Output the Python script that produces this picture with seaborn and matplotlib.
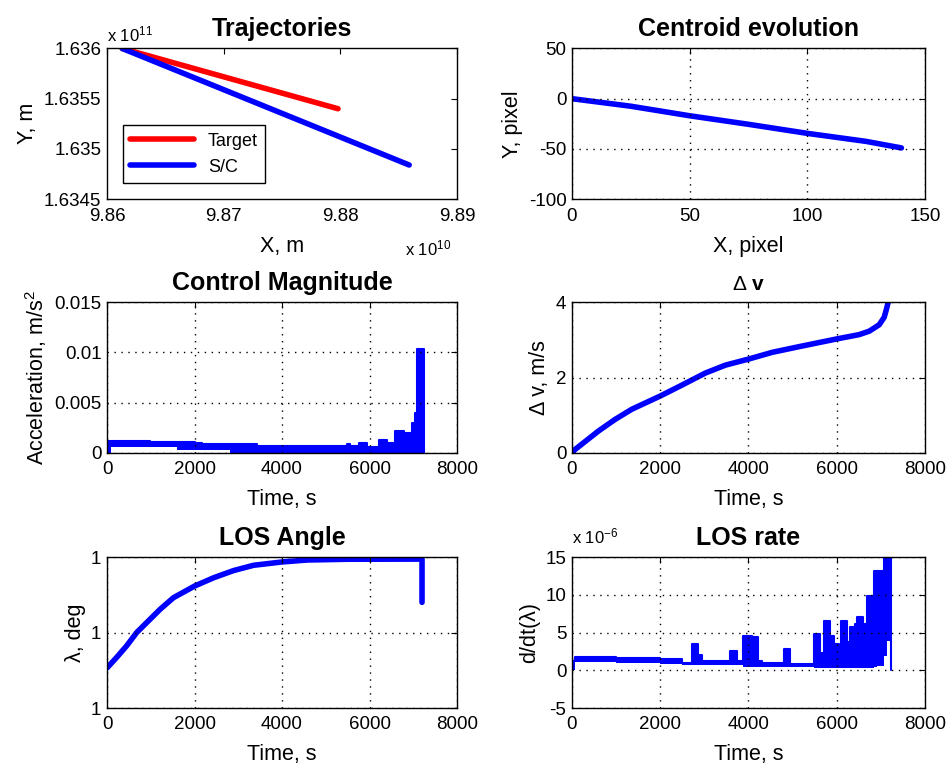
import seaborn as sns
import matplotlib.pyplot as plt
from matplotlib.ticker import FuncFormatter

# Trajectories, m
target_x = [9.8613e10, 9.8798e10]
target_y = [1.63600e11, 1.63540e11]
sc_x = [9.8613e10, 9.8859e10]
sc_y = [1.63600e11, 1.63484e11]

# Centroid evolution, pixel
cen_x = [0, 10, 25, 50, 75, 100, 125, 140]
cen_y = [0, -3, -7.5, -17, -25.5, -34.5, -42.5, -49]

# Control magnitude (step envelopes), m/s^2
acc_t = [0, 100, 985, 1595, 2000, 2170, 2820, 3427, 4687, 4900, 4950, 5486, 5562, 5752,
         5943, 6210, 6400, 6590, 6781, 6971, 7032, 7086, 7253]
acc_hi = [0.00123, 0.00123, 0.00108, 0.00108, 0.00097, 0.00085, 0.00085, 0.0007, 0.00065,
          0.00073, 0.00065, 0.00085, 0.00065, 0.001, 0.0006, 0.00133, 0.001, 0.0022,
          0.00203, 0.00293, 0.004, 0.01033, 0.0]
acc_lo = [0.0, 0.00057, 0.00057, 0.0003, 0.0003, 0.0003, 0.0, 0.0, 0.0,
          0.0, 0.0, 0.0, 0.0, 0.0, 0.0, 0.0, 0.0, 0.0,
          0.0, 0.0, 0.0, 0.0, 0.0]

# Delta v, m/s
dv_t = [0, 68, 598, 977, 1356, 2000, 2492, 3023, 3477, 4000, 4538, 5144, 5977,
        6508, 6735, 6962, 7076, 7129, 7167, 7200]
dv = [0, 0.09, 0.58, 0.89, 1.16, 1.51, 1.80, 2.12, 2.33, 2.49, 2.67, 2.82, 3.02,
      3.14, 3.23, 3.40, 3.60, 3.82, 4.0, 4.1]

# LOS angle, deg
los_t = [0, 221, 450, 679, 908, 1214, 1519, 2000, 2435, 2893, 3351, 4000, 4573,
         5500, 7200, 7200]
los_deg = [0.9999532, 0.9999672, 0.9999826, 1.0000002, 1.0000134, 1.000031,
           1.0000464, 1.0000618, 1.0000728, 1.0000824, 1.0000894, 1.0000938,
           1.0000964, 1.0000974, 1.0000976, 1.0000402]

# LOS rate (step envelopes)
rate_t = [0, 60, 515, 990, 1990, 2485, 2710, 2865, 2940, 3585, 3735, 3885, 4075,
          4210, 4300, 4795, 4950, 5475, 5615, 5705, 5840, 5930, 6045, 6100, 6235,
          6310, 6425, 6460, 6600, 6690, 6840, 6920, 7070, 7145, 7235]
rate_hi = [1.2e-6, 1.8e-6, 1.8e-6, 1.67e-6, 1.5e-6, 1.0e-6, 3.45e-6, 2.1e-6, 1.2e-6,
           2.6e-6, 1.2e-6, 4.6e-6, 4.4e-6, 1.2e-6, 1.0e-6, 2.8e-6, 0.85e-6, 4.8e-6,
           2.3e-6, 6.5e-6, 4.5e-6, 3.5e-6, 2.7e-6, 6.5e-6, 3.8e-6, 5.8e-6, 6.2e-6,
           7.1e-6, 6.2e-6, 9.8e-6, 13.2e-6, 13.2e-6, 16e-6, 16e-6, 0.0]
rate_lo = [0.0, 1.14e-6, 1.05e-6, 0.96e-6, 0.8e-6, 0.65e-6, 0.65e-6, 0.65e-6, 0.65e-6,
           0.65e-6, 0.65e-6, 0.5e-6, 0.5e-6, 0.4e-6, 0.4e-6, 0.4e-6, 0.4e-6, 0.3e-6,
           0.3e-6, 0.3e-6, 0.3e-6, 0.3e-6, 0.3e-6, 0.3e-6, 0.3e-6, 0.3e-6, 0.3e-6,
           0.3e-6, 0.3e-6, 0.3e-6, 0.5e-6, 0.6e-6, 1.9e-6, 3.9e-6, 0.0]

sns.set_style('white')
plt.rcParams['font.family'] = ['Liberation Sans', 'DejaVu Sans']
plt.rcParams['mathtext.fontset'] = 'custom'
plt.rcParams['mathtext.rm'] = 'Liberation Sans'
plt.rcParams['mathtext.bf'] = 'Liberation Sans:bold'
plt.rcParams['mathtext.default'] = 'regular'
plt.rcParams['axes.unicode_minus'] = False
plt.rcParams['text.color'] = 'black'
plt.rcParams['axes.labelcolor'] = 'black'

TICK = 13.5
LABEL = 15.5
TITLE = 18
LW = 4.0

fig = plt.figure(figsize=(9.47, 7.69), dpi=100)
lefts = [0.113, 0.604]
widths = [0.3696, 0.3727]
bottoms = [0.741, 0.411, 0.0793]
h = 0.196
axes = [[fig.add_axes([lefts[c], bottoms[r], widths[c], h]) for c in range(2)] for r in range(3)]


def style(ax, grid=True):
    ax.tick_params(direction='in', top=True, right=True, length=4, labelsize=TICK,
                   colors='black')
    ax.tick_params(axis='x', pad=6)
    ax.tick_params(axis='y', pad=4)
    for s in ax.spines.values():
        s.set_color('black')
        s.set_linewidth(1.0)
    if grid:
        ax.grid(True, color='black', linestyle=(0, (1, 4)), linewidth=1.0)
        ax.set_axisbelow(False)
    ax.xaxis.label.set_size(LABEL)
    ax.yaxis.label.set_size(LABEL)
    ax.xaxis.labelpad = 8


# Trajectories
ax = axes[0][0]
sns.lineplot(x=target_x, y=target_y, color='red', lw=LW, ax=ax, label='Target', sort=False)
sns.lineplot(x=sc_x, y=sc_y, color='blue', lw=LW, ax=ax, label='S/C', sort=False)
ax.set_xlim(9.86e10, 9.89e10)
ax.set_ylim(1.6345e11, 1.636e11)
ax.set_xticks([9.86e10, 9.87e10, 9.88e10, 9.89e10])
ax.set_yticks([1.6345e11, 1.635e11, 1.6355e11, 1.636e11])
ax.xaxis.set_major_formatter(FuncFormatter(lambda v, _: f'{v / 1e10:g}'))
ax.yaxis.set_major_formatter(FuncFormatter(lambda v, _: f'{v / 1e11:g}'))
ax.set_xlabel('X, m')
ax.set_ylabel('Y, m')
ax.set_title('Trajectories', fontsize=TITLE, fontweight='bold', pad=9)
ax.text(0.0, 1.03, 'x 10$^{11}$', transform=ax.transAxes, fontsize=12, va='bottom')
ax.text(0.85, -0.39, 'x 10$^{10}$', transform=ax.transAxes, fontsize=12, va='bottom')
leg = ax.legend(loc='lower left', fontsize=13, handlelength=3.5, fancybox=False,
                framealpha=1, edgecolor='black', borderaxespad=0.9)
leg.get_frame().set_linewidth(1.0)
style(ax, grid=False)

# Centroid evolution
ax = axes[0][1]
sns.lineplot(x=cen_x, y=cen_y, color='blue', lw=LW, ax=ax, sort=False)
ax.set_xlim(0, 150)
ax.set_ylim(-100, 50)
ax.set_xticks([0, 50, 100, 150])
ax.set_yticks([-100, -50, 0, 50])
ax.set_xlabel('X, pixel')
ax.set_ylabel('Y, pixel')
ax.set_title('Centroid evolution', fontsize=TITLE, fontweight='bold', pad=9)
style(ax)

# Control magnitude
ax = axes[1][0]
ax.fill_between(acc_t, acc_lo, acc_hi, step='post', color='blue', lw=0)
sns.lineplot(x=acc_t, y=acc_hi, drawstyle='steps-post', color='blue', lw=1.5, ax=ax,
             sort=False, estimator=None)
ax.set_xlim(0, 8000)
ax.set_ylim(0, 0.015)
ax.set_xticks([0, 2000, 4000, 6000, 8000])
ax.set_yticks([0, 0.005, 0.01, 0.015])
ax.yaxis.set_major_formatter(FuncFormatter(lambda v, _: f'{v:g}'))
ax.set_xlabel('Time, s')
ax.set_ylabel('Acceleration, m/s$^2$')
ax.set_title('Control Magnitude', fontsize=TITLE, fontweight='bold', pad=9)
style(ax)

# Delta v
ax = axes[1][1]
sns.lineplot(x=dv_t, y=dv, color='blue', lw=LW, ax=ax, sort=False)
ax.set_xlim(0, 8000)
ax.set_ylim(0, 4)
ax.set_xticks([0, 2000, 4000, 6000, 8000])
ax.set_yticks([0, 2, 4])
ax.set_xlabel('Time, s')
ax.set_ylabel('Δ v, m/s')
ax.set_title('$\\Delta$ $\\mathbf{v}$', fontsize=15, pad=9)
style(ax)

# LOS angle
ax = axes[2][0]
sns.lineplot(x=los_t, y=los_deg, color='blue', lw=LW, ax=ax, sort=False, estimator=None)
ax.set_xlim(0, 8000)
ax.set_ylim(0.9999, 1.0001)
ax.set_xticks([0, 2000, 4000, 6000, 8000])
ax.set_yticks([0.9999, 1.0, 1.0001])
ax.yaxis.set_major_formatter(FuncFormatter(lambda v, _: f'{v:.0f}'))
ax.set_xlabel('Time, s')
ax.set_ylabel('λ, deg')
ax.set_title('LOS Angle', fontsize=TITLE, fontweight='bold', pad=9)
style(ax)

# LOS rate
ax = axes[2][1]
ax.fill_between(rate_t, rate_lo, rate_hi, step='post', color='blue', lw=0)
sns.lineplot(x=rate_t, y=rate_hi, drawstyle='steps-post', color='blue', lw=1.5, ax=ax,
             sort=False, estimator=None)
ax.set_xlim(0, 8000)
ax.set_ylim(-5e-6, 15e-6)
ax.set_xticks([0, 2000, 4000, 6000, 8000])
ax.set_yticks([-5e-6, 0, 5e-6, 10e-6, 15e-6])
ax.yaxis.set_major_formatter(FuncFormatter(lambda v, _: f'{v * 1e6:.0f}'))
ax.set_xlabel('Time, s')
ax.set_ylabel('d/dt(λ)')
ax.set_title('LOS rate', fontsize=TITLE, fontweight='bold', pad=9)
ax.text(0.0, 1.07, 'x 10$^{-6}$', transform=ax.transAxes, fontsize=12, va='bottom')
style(ax)

fig.savefig('out.png', dpi=100, facecolor='white')
